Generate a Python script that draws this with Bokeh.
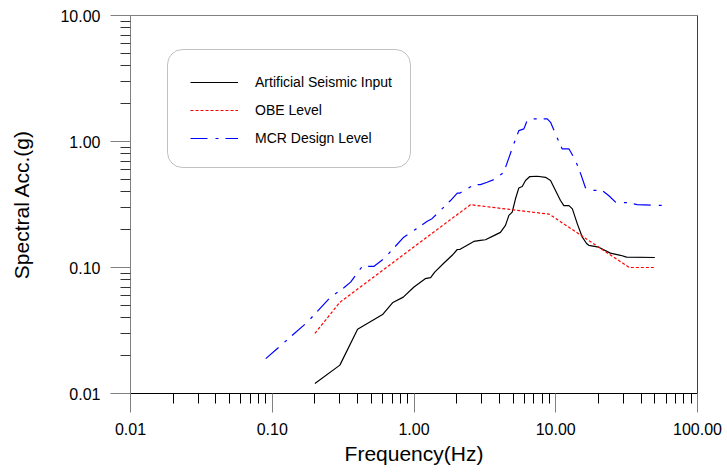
from bokeh.plotting import figure
from bokeh.models import (Range1d, FixedTicker, PrintfTickFormatter, Legend, LegendItem,
                          BoxAnnotation, Span)
from bokeh.embed import file_html
from bokeh.resources import INLINE

# ---------------- data ----------------
freq_input = [0.2, 0.3, 0.4, 0.6, 0.71, 0.84, 1.0, 1.2, 1.31, 1.4, 1.62, 1.86, 2.02, 2.1,
              2.64, 2.94, 3.19, 3.66, 4.07, 4.42, 4.67, 4.93, 5.2, 5.49, 5.8, 6.12, 6.56,
              7.4, 8.47, 9.19, 9.96, 10.8, 11.4, 12.4, 13.1, 14.2, 15.4, 16.5, 17.1, 20.1,
              24.3, 28.6, 31.6, 50.0]
acc_input = [0.012, 0.0168, 0.0323, 0.0423, 0.0528, 0.0582, 0.070, 0.0815, 0.083, 0.092,
             0.108, 0.125, 0.139, 0.139, 0.161, 0.164, 0.166, 0.179, 0.19, 0.216, 0.259,
             0.275, 0.351, 0.428, 0.44, 0.49, 0.527, 0.53, 0.52, 0.49, 0.408, 0.34, 0.31,
             0.31, 0.292, 0.222, 0.174, 0.155, 0.150, 0.145, 0.130, 0.125, 0.121, 0.12]

freq_obe = [0.2, 0.3, 2.5, 9.0, 33.0, 50.0]
acc_obe = [0.030, 0.053, 0.315, 0.265, 0.100, 0.100]

freq_mcr = [0.09, 0.177, 0.258, 0.32, 0.357, 0.431, 0.52, 0.612, 0.847, 1.0, 1.24, 1.34,
            1.81, 2.02, 2.1, 2.64, 2.94, 3.28, 3.76, 4.3, 4.67, 5.06, 5.49, 5.96, 6.29,
            6.64, 8.71, 9.19, 10.2, 11.1, 12.4, 13.8, 15.0, 16.2, 17.6, 21.2, 23.6, 26.4,
            31.9, 37.5, 60.0]
acc_mcr = [0.0189, 0.0369, 0.0582, 0.069, 0.0766, 0.102, 0.102, 0.117, 0.174, 0.197,
           0.233, 0.244, 0.34, 0.389, 0.389, 0.453, 0.455, 0.475, 0.505, 0.57, 0.741,
           0.957, 1.22, 1.26, 1.47, 1.51, 1.51, 1.42, 1.08, 0.873, 0.873, 0.706, 0.553,
           0.43, 0.41, 0.41, 0.373, 0.33, 0.327, 0.316, 0.31]

series_names = ["Artificial Seismic Input", "OBE Level", "MCR Design Level"]

x_ticks = [0.01, 0.1, 1.0, 10.0, 100.0]
x_tick_labels = ["0.01", "0.10", "1.00", "10.00", "100.00"]
y_ticks = [0.01, 0.1, 1.0, 10.0]
y_tick_labels = ["0.01", "0.10", "1.00", "10.00"]

x_title = "Frequency(Hz)"
y_title = "Spectral Acc.(g)"

# ---------------- figure ----------------
FONT = "Liberation Sans"

p = figure(width=727, height=472, x_axis_type="log", y_axis_type="log",
           x_range=Range1d(0.01, 100), y_range=Range1d(0.01, 10),
           output_backend="svg", toolbar_location=None,
           min_border_left=130, min_border_right=30, min_border_top=15,
           min_border_bottom=79)
p.grid.visible = False
p.outline_line_color = "#808080"
p.background_fill_color = "white"
p.border_fill_color = "white"

def minors(ticks):
    out = []
    for t in ticks[:-1]:
        out += [t * k for k in range(2, 10)]
    return out

# x axis
xa = p.xaxis[0]
xa.ticker = FixedTicker(ticks=x_ticks, minor_ticks=minors(x_ticks))
xa.formatter = PrintfTickFormatter(format="%.2f")
xa.major_label_overrides = dict(zip(x_ticks, x_tick_labels))
xa.axis_line_color = "black"
xa.major_tick_line_color = "#808080"
xa.minor_tick_line_color = "black"
xa.major_tick_out = 19
xa.major_tick_in = 0
xa.minor_tick_out = 10
xa.minor_tick_in = 0
xa.major_label_standoff = 10
xa.major_label_text_font = FONT
xa.major_label_text_font_size = "16px"
xa.major_label_text_color = "black"
xa.axis_label = x_title
xa.axis_label_text_font = FONT
xa.axis_label_text_font_size = "21px"
xa.axis_label_text_font_style = "normal"
xa.axis_label_text_color = "black"
xa.axis_label_standoff = 4

# y axis
ya = p.yaxis[0]
ya.ticker = FixedTicker(ticks=y_ticks, minor_ticks=minors(y_ticks))
ya.formatter = PrintfTickFormatter(format="%.2f")
ya.major_label_overrides = dict(zip(y_ticks, y_tick_labels))
ya.axis_line_color = "#808080"
ya.major_tick_line_color = "#808080"
ya.minor_tick_line_color = "#333333"
ya.major_tick_out = 20
ya.major_tick_in = 0
ya.minor_tick_out = 10
ya.minor_tick_in = 0
ya.major_label_standoff = 10
ya.major_label_text_font = FONT
ya.major_label_text_font_size = "16px"
ya.major_label_text_color = "black"
ya.axis_label = y_title
ya.axis_label_text_font = FONT
ya.axis_label_text_font_size = "21px"
ya.axis_label_text_font_style = "normal"
ya.axis_label_text_color = "black"
ya.axis_label_standoff = 24

# right frame edge in black
p.add_layout(Span(location=100, dimension="height", line_color="black", line_width=1))

# ---------------- series ----------------
r_in = p.line(freq_input, acc_input, line_color="black", line_width=1.2)
r_obe = p.line(freq_obe, acc_obe, line_color="#ff0000", line_width=1.2, line_dash="3 2")
r_mcr = p.line(freq_mcr, acc_mcr, line_color="#0000ff", line_width=1.2, line_dash="17 8 3 7")

# ---------------- legend ----------------
box = BoxAnnotation(left=37, right=280, top=344, bottom=226,
                    left_units="screen", right_units="screen",
                    top_units="screen", bottom_units="screen",
                    fill_color="white", fill_alpha=1.0,
                    line_color="#333333", line_width=1, border_radius=15)
p.add_layout(box)

legend = Legend(items=[LegendItem(label=series_names[0], renderers=[r_in]),
                       LegendItem(label=series_names[1], renderers=[r_obe]),
                       LegendItem(label=series_names[2], renderers=[r_mcr])],
                location=(60, 245), padding=0, margin=0, spacing=8,
                glyph_width=48, glyph_height=20, label_height=20,
                label_standoff=17, label_text_font=FONT,
                label_text_font_size="14px", label_text_color="black",
                background_fill_alpha=0, border_line_alpha=0)
p.add_layout(legend)

open("out.html", "w").write(file_html(p, INLINE))
